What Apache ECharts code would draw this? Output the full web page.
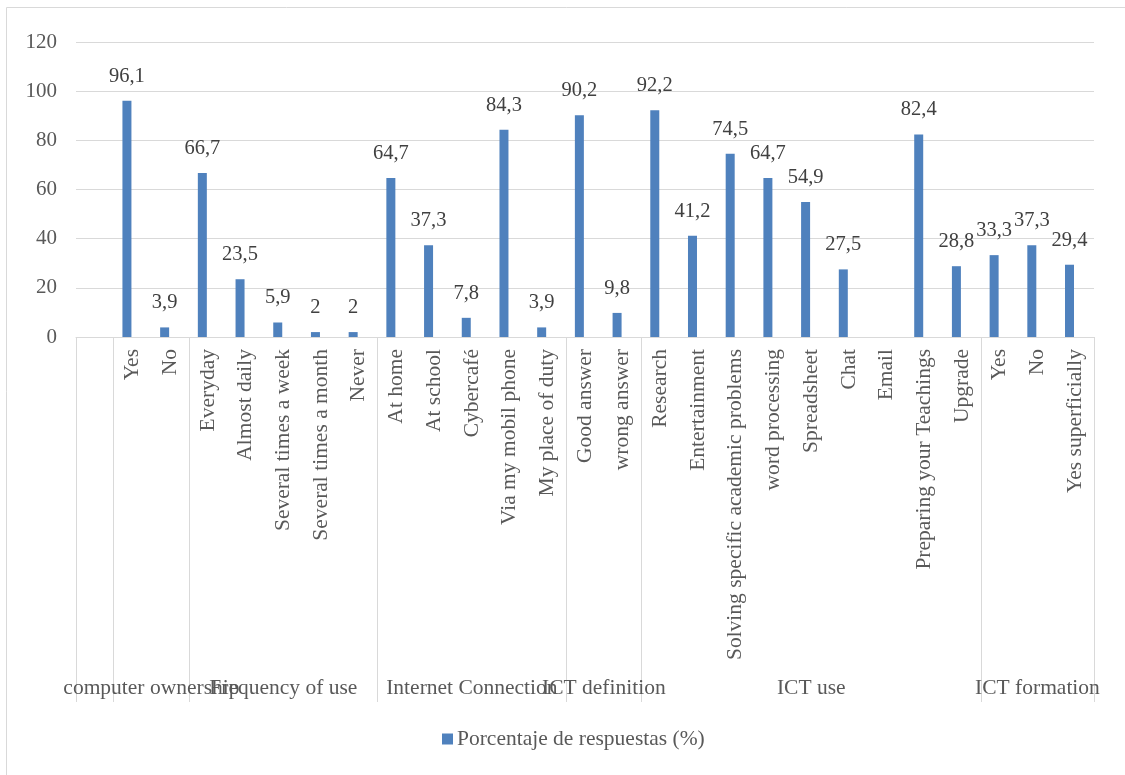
<!DOCTYPE html>
<html>
<head>
<meta charset="utf-8">
<script src="https://cdn.jsdelivr.net/npm/echarts@6/dist/echarts.min.js"></script>
<style>
  html, body { margin: 0; padding: 0; background: #fff; }
  #chart { width: 1125px; height: 775px; }
</style>
</head>
<body>
<div id="chart"></div>
<script>
/* Survey answers, Excel-style clustered column with a two level category axis */
const categories = ['', 'Yes', 'No', 'Everyday', 'Almost daily', 'Several times a week',
  'Several times a month', 'Never', 'At home', 'At school', 'Cybercafé', 'Via my mobil phone',
  'My place of duty', 'Good answer', 'wrong answer', 'Research', 'Entertainment',
  'Solving specific academic problems', 'word processing', 'Spreadsheet', 'Chat', 'Email',
  'Preparing your Teachings', 'Upgrade', 'Yes', 'No', 'Yes superficially'];
const values = ['-', 96.1, 3.9, 66.7, 23.5, 5.9, 2, 2, 64.7, 37.3, 7.8, 84.3, 3.9, 90.2, 9.8,
  92.2, 41.2, 74.5, 64.7, 54.9, 27.5, '-', 82.4, 28.8, 33.3, 37.3, 29.4];
// the source workbook has a second, empty series that pushes the bars left of centre
const emptyValues = categories.map(() => '-');
const groups = ['', 'computer ownership', 'Frequency of use', 'Internet Connection',
  'ICT definition', 'ICT use', 'ICT formation'];
const groupSizes = [1, 2, 5, 5, 2, 9, 3];
const yTicks = [0, 20, 40, 60, 80, 100, 120];
const seriesName = 'Porcentaje de respuestas (%)';

// group boundaries and centres, in category units
let bounds = [0], centers = [], groupByCenter = {};
groupSizes.forEach((n, i) => {
  let start = bounds[bounds.length - 1];
  bounds.push(start + n);
  if (groups[i]) {
    centers.push(start + n / 2);
    groupByCenter[start + n / 2] = groups[i];
  }
});
// group names overlap like in Excel, so split them over two axes (echarts would hide them)
let centersA = centers.filter((c, i) => i % 2 === 0);
let centersB = centers.filter((c, i) => i % 2 === 1);

const FONT = "'Liberation Serif', 'Times New Roman', serif";
const GRID = '#d9d9d9';

let chart = echarts.init(document.getElementById('chart'));

function groupAxis(vals, withTicks) {
  return {
    type: 'value',
    position: 'bottom',
    offset: 0,
    min: 0,
    max: categories.length,
    splitLine: { show: false },
    axisLine: { show: false },
    axisTick: {
      show: withTicks,
      customValues: bounds,
      length: 365,
      lineStyle: { color: GRID }
    },
    axisLabel: {
      customValues: vals,
      showMinLabel: true,
      showMaxLabel: true,
      hideOverlap: false,
      margin: 340,
      fontFamily: FONT,
      fontSize: 21.5,
      color: '#595959',
      formatter: v => groupByCenter[v] || ''
    }
  };
}

let option = {
  animation: false,
  grid: { left: 76, right: 31, top: 42, bottom: 438 },
  graphic: [{
    type: 'rect',
    shape: { x: 6.5, y: 7.5, width: 1140, height: 800 },
    style: { fill: null, stroke: GRID, lineWidth: 1 },
    silent: true
  }],
  legend: {
    data: [seriesName],
    top: 723,
    left: 437,
    icon: 'rect',
    itemWidth: 11,
    itemHeight: 11,
    itemGap: 4,
    textStyle: { fontFamily: FONT, fontSize: 21.5, color: '#595959', padding: [0, 0, 0, -1] }
  },
  xAxis: [
    {
      type: 'category',
      data: categories,
      axisLine: { lineStyle: { color: GRID } },
      axisTick: { show: false },
      axisLabel: {
        interval: 0,
        rotate: 90,
        margin: 12,
        fontFamily: FONT,
        fontSize: 21.5,
        color: '#595959'
      }
    },
    groupAxis(centersA, true),
    groupAxis(centersB, false)
  ],
  yAxis: {
    type: 'value',
    min: 0,
    max: 120,
    interval: 20,
    axisLine: { show: false },
    axisTick: { show: false },
    splitLine: { lineStyle: { color: GRID } },
    axisLabel: {
      margin: 19,
      fontFamily: FONT,
      fontSize: 21,
      color: '#595959',
      formatter: v => yTicks.includes(v) ? String(v) : ''
    }
  },
  series: [
    {
      name: seriesName,
      type: 'bar',
      xAxisIndex: 0,
      data: values,
      barWidth: 9,
      barGap: '25%',
      itemStyle: { color: '#4F81BD' },
      label: {
        show: true,
        position: 'top',
        distance: 14,
        fontFamily: FONT,
        fontSize: 20.5,
        color: '#404040',
        formatter: p => String(p.value).replace('.', ',')
      }
    },
    {
      name: 'blank',
      type: 'bar',
      xAxisIndex: 0,
      data: emptyValues,
      barWidth: 9
    }
  ]
};

option && chart.setOption(option);
</script>
</body>
</html>
